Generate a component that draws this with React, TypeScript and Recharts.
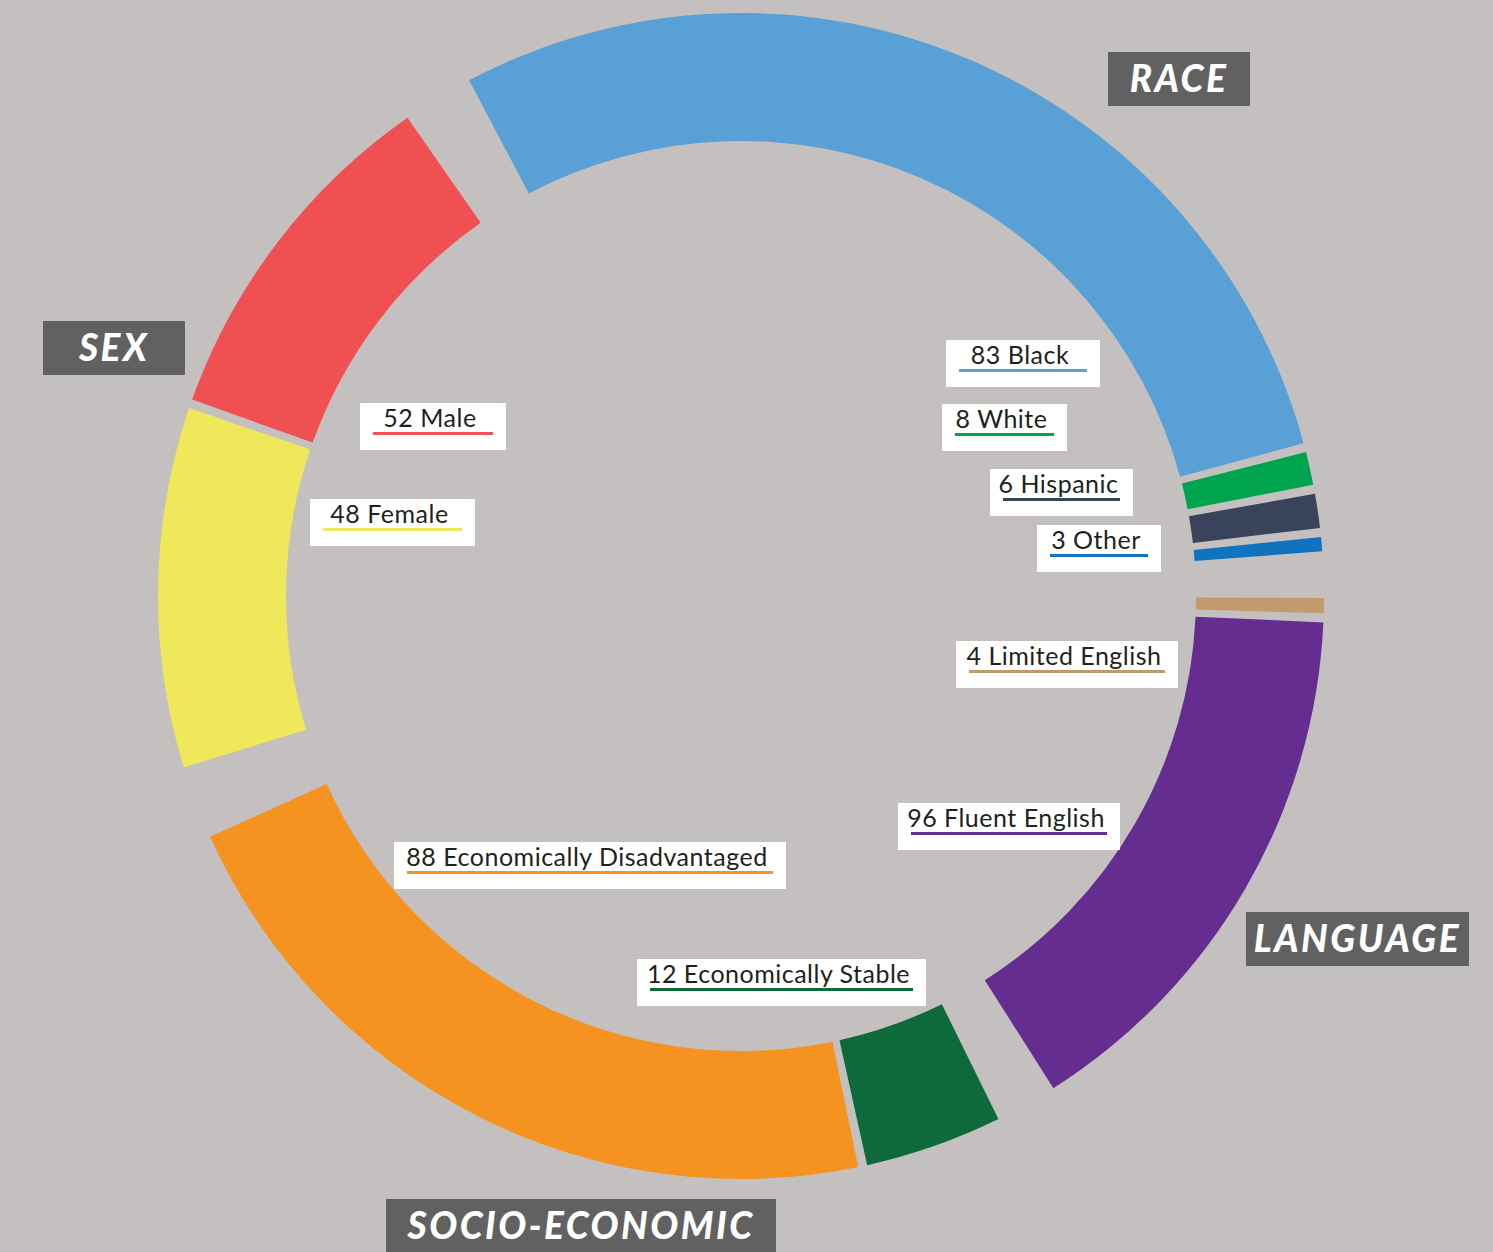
import { PieChart, Pie, Cell } from "recharts";

// counts shown in the labels
const raceNames = ["Black", "White", "Hispanic", "Other"];
const raceCounts = [83, 8, 6, 3];
// drawn arc of each slice (degrees) — the graphic is not to scale
const raceArc = [102.6, 3.3, 3.4, 1.4];

const langNames = ["Limited English", "Fluent English"];
const langCounts = [4, 96];
const langArc = [1.5, 55.0];

const seNames = ["Economically Stable", "Economically Disadvantaged"];
const seCounts = [12, 88];
const seArc = [13.7, 77.2];

const sexNames = ["Female", "Male"];
const sexCounts = [48, 52];
const sexArc = [35.9, 35.4];

const BG = "#c4c0bf";
const TAG = "#616161";
const PAD = 0.9;

const groups = [
  { title: "RACE", names: raceNames, counts: raceCounts, arc: raceArc, start: 117.8,
    colors: ["#58a0d6", "#00a44f", "#39435a", "#1173bd"] },
  { title: "LANGUAGE", names: langNames, counts: langCounts, arc: langArc, start: -0.2,
    colors: ["#c39a6c", "#652d90"] },
  { title: "SOCIO-ECONOMIC", names: seNames, counts: seCounts, arc: seArc, start: -63.8,
    colors: ["#0e6a3a", "#f6921f"] },
  { title: "SEX", names: sexNames, counts: sexCounts, arc: sexArc, start: 197.1,
    colors: ["#eee85a", "#f05052"] },
];

// where the little white label boxes sit [left, top, width]
const labelBoxes: Record<string, [number, number, number]> = {
  Black: [946, 340, 154],
  White: [942, 404, 125],
  Hispanic: [990, 469, 143],
  Other: [1037, 525, 124],
  "Limited English": [956, 641, 222],
  "Fluent English": [898, 803, 222],
  "Economically Disadvantaged": [394, 842, 392],
  "Economically Stable": [637, 959, 289],
  Male: [360, 403, 146],
  Female: [310, 499, 165],
};

const tagBoxes: Record<string, [number, number, number, number]> = {
  RACE: [1108, 52, 142, 54],
  SEX: [43, 321, 142, 54],
  LANGUAGE: [1246, 912, 223, 54],
  "SOCIO-ECONOMIC": [386, 1199, 390, 60],
};

function Label({ name, count, color }: { name: string; count: number; color: string }) {
  const [left, top, width] = labelBoxes[name];
  return (
    <div
      style={{
        position: "absolute",
        left,
        top,
        width,
        height: 47,
        background: "#fff",
        textAlign: "center",
        fontFamily: "Lato, sans-serif",
        fontSize: 25,
        color: "#231f20",
      }}
    >
      <div style={{ lineHeight: "24px", marginTop: 2, letterSpacing: 0.5, paddingRight: 6 }}>
        {count} {name}
      </div>
      <div style={{ height: 3, background: color, margin: "3px 13px 0" }} />
    </div>
  );
}

function Tag({ title }: { title: string }) {
  const [left, top, width, height] = tagBoxes[title];
  return (
    <div
      style={{
        position: "absolute",
        left,
        top,
        width,
        height,
        background: TAG,
        color: "#fff",
        fontFamily: "Lato, sans-serif",
        fontWeight: 900,
        fontStyle: "italic",
        fontSize: 37,
        letterSpacing: 2.5,
        lineHeight: "52px",
        textAlign: "center",
      }}
    >
      {title}
    </div>
  );
}

export default function App() {
  return (
    <div
      style={{
        position: "absolute",
        left: 0,
        top: 0,
        width: 1493,
        height: 1252,
        background: BG,
        overflow: "hidden",
      }}
    >
      <PieChart width={1493} height={1252} margin={{ top: 0, right: 0, bottom: 0, left: 0 }}>
        {groups.map((g) => {
          const data = g.names.map((n, i) => ({ name: n, value: g.counts[i], arc: g.arc[i] }));
          const span = g.arc.reduce((a, b) => a + b, 0) + PAD * (g.arc.length - 1);
          return (
            <Pie
              key={g.title}
              data={data}
              dataKey="arc"
              cx={741}
              cy={596}
              innerRadius={455}
              outerRadius={583}
              startAngle={g.start}
              endAngle={g.start - span}
              paddingAngle={PAD}
              stroke="none"
              isAnimationActive={false}
            >
              {data.map((d, i) => (
                <Cell key={d.name} fill={g.colors[i]} />
              ))}
            </Pie>
          );
        })}
      </PieChart>
      {groups.map((g) =>
        g.names.map((n, i) => <Label key={n} name={n} count={g.counts[i]} color={g.colors[i]} />)
      )}
      {groups.map((g) => (
        <Tag key={g.title} title={g.title} />
      ))}
    </div>
  );
}
